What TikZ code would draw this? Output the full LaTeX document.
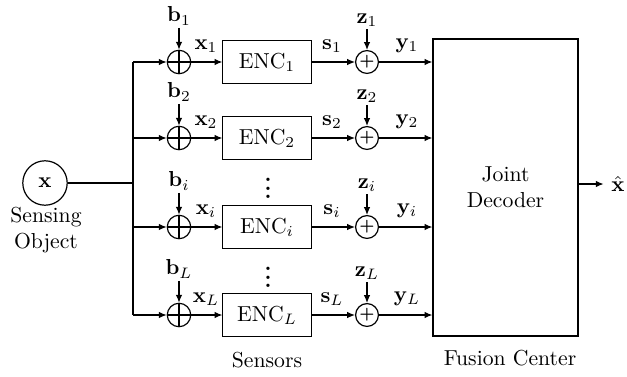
\documentclass[tikz,border=0pt]{standalone}
\usetikzlibrary{arrows.meta,calc,positioning}

\begin{document}
\begin{tikzpicture}[
    x=0.0162cm, y=-0.0162cm,
    line width=0.55pt,
    sig/.style={-{Latex[length=3.6pt,width=3pt]}},
    block/.style={draw, line width=0.45pt, minimum width=1.43cm, minimum height=0.70cm, inner sep=0pt},
    adder/.style={draw, circle, minimum size=0.38cm, inner sep=0pt},
    summer/.style={draw, circle, minimum size=0.37cm, inner sep=0pt, font=\scriptsize\bfseries},
    lab/.style={inner sep=1pt}
]
\useasboundingbox (0,0) rectangle (627,376);

% Source and distribution bus.
\node[draw, circle, minimum size=0.72cm, inner sep=0pt] (src) at (45,183) {$\mathbf{x}$};
\node[align=center] (srclab) at (46,230) {Sensing\\Object};
\coordinate (bustop) at (133,62);
\coordinate (busbot) at (133,315);
\draw (bustop) -- (busbot);
\draw (src) -- (src -| bustop);

% Fusion center.
\node[draw, minimum width=2.35cm, minimum height=4.81cm, align=center] (dec) at (505.5,187.5) {Joint\\Decoder};
\node (xhat) at (618,184) {$\hat{\mathbf{x}}$};
\draw[sig] (dec.east |- xhat) -- (xhat.west);

% One row per sensor.
\foreach \k/\yy in {1/62,2/138,i/227,L/315} {
    \node[adder] (add\k) at (179,\yy) {};
    \draw (add\k.north) -- (add\k.south);
    \draw (add\k.west) -- (add\k.east);
    \node[block] (enc\k) at (267,\yy) {ENC$_\k$};
    \node[summer] (sum\k) at (367,\yy) {+};
    \draw[sig] (add\k) -- (enc\k);
    \draw[sig] (enc\k) -- (sum\k);
    \draw[sig] (sum\k) -- (dec.west |- sum\k);
    \draw[sig] (add\k -| bustop) -- (add\k);
}

% Labels above each row.
\foreach \k/\yy in {1/16,2/92,i/181,L/269} {
    \node[lab] (b\k) at (179,\yy) {$\mathbf{b}_\k$};
    \draw[sig] (b\k) -- (add\k);
}
\foreach \k/\yy in {1/20,2/96,i/185,L/273} {
    \node[lab] (z\k) at (367,\yy) {$\mathbf{z}_\k$};
    \draw[sig] (z\k) -- (sum\k);
}
\foreach \k/\yy in {1/46,2/122,i/211,L/299} {
    \node[lab] (xl\k) at (206,\yy) {$\mathbf{x}_\k$};
    \node[lab] (sl\k) at (332,\yy) {$\mathbf{s}_\k$};
    \node[lab] (yl\k) at (407,\yy) {$\mathbf{y}_\k$};
}

% Skipped sensors.
\node (dotsa) at (268,182) {\bfseries\vdots};
\node (dotsb) at (268,271) {\bfseries\vdots};

% Group captions.
\node (sensors) at (267,360) {Sensors};
\node (fusion) at (510,358) {Fusion Center};

\end{tikzpicture}
\end{document}
